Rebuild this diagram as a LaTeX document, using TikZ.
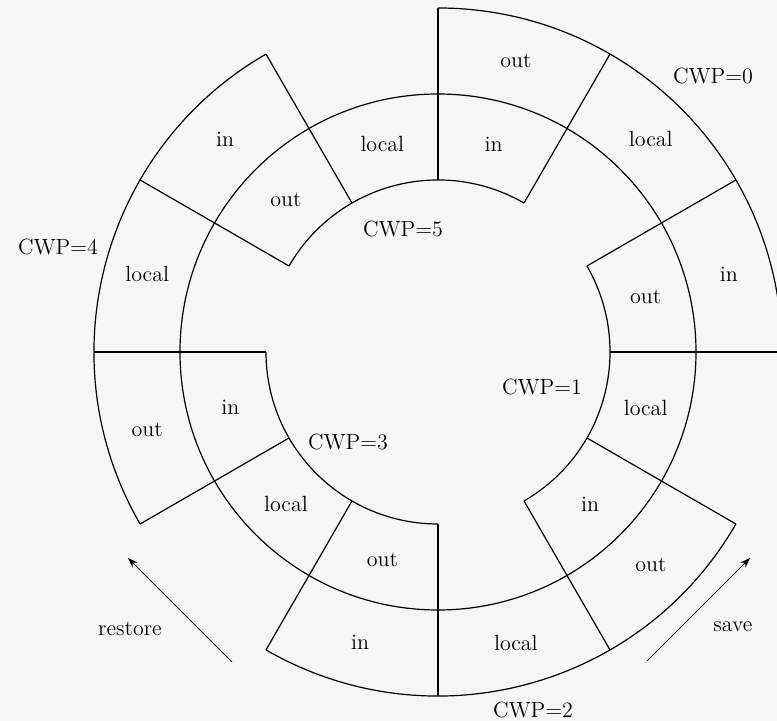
\documentclass[tikz,border=0pt]{standalone}
\usetikzlibrary{arrows.meta}
\definecolor{bgcol}{RGB}{246,246,247}
\begin{document}
\begin{tikzpicture}[x=0.5pt,y=0.5pt,line width=0.6pt,
  lbl/.style={inner sep=0pt,font=\fontsize{11}{13}\selectfont},
  cwp/.style={inner sep=0pt,font=\fontsize{11}{13}\selectfont},
  arr/.style={line width=0.5pt,-{Stealth[length=5pt,width=3.6pt]}}]
\fill[bgcol] (-438,-369) rectangle (339,352);
\useasboundingbox (-438,-369) rectangle (339,352);
% middle circle
\draw (0,0) circle[radius=258];
% outer arcs (CWP 0, 2, 4)
\draw (90:344) arc[start angle=90,end angle=0,radius=344];
\draw (-30:344) arc[start angle=-30,end angle=-120,radius=344];
\draw (210:344) arc[start angle=210,end angle=120,radius=344];
% inner arcs (CWP 1, 3, 5)
\draw (30:172) arc[start angle=30,end angle=-60,radius=172];
\draw (270:172) arc[start angle=270,end angle=180,radius=172];
\draw (150:172) arc[start angle=150,end angle=60,radius=172];
% radial separators
\foreach \a in {0,30,...,330} \draw (\a:172) -- (\a:344);
% outer ring labels
\node[lbl] (o75)  at (75:301)   {out};
\node[lbl] (o45)  at (45:301)   {local};
\node[lbl] (o15)  at (15:301)   {in};
\node[lbl] (om45) at (-45:301)  {out};
\node[lbl] (om75) at (-75:301)  {local};
\node[lbl] (om105) at (-105:301) {in};
\node[lbl] (om165) at (-165:301) {out};
\node[lbl] (o165) at (165:301)  {local};
\node[lbl] (o135) at (135:301)  {in};
% inner ring labels
\node[lbl] (i75)  at (75:215)   {in};
\node[lbl] (i105) at (105:215)  {local};
\node[lbl] (i135) at (135:215)  {out};
\node[lbl] (i15)  at (15:215)   {out};
\node[lbl] (im15) at (-15:215)  {local};
\node[lbl] (im45) at (-45:215)  {in};
\node[lbl] (im105) at (-105:215) {out};
\node[lbl] (im135) at (-135:215) {local};
\node[lbl] (im165) at (-165:215) {in};
% window labels
\node[cwp] (c0) at (275,276)   {CWP=0};
\node[cwp] (c1) at (104,-35)   {CWP=1};
\node[cwp] (c2) at (95,-358)   {CWP=2};
\node[cwp] (c3) at (-90,-90)   {CWP=3};
\node[cwp] (c4) at (-380,105)  {CWP=4};
\node[cwp] (c5) at (-35,123)   {CWP=5};
% arrows
\coordinate (rs) at (-206,-310);
\coordinate (re) at (-310,-206);
\coordinate (ss) at (209,-309);
\coordinate (se) at (312,-206);
\draw[arr] (rs) -- (re);
\draw[arr] (ss) -- (se);
\node[lbl] (restore) at (-308,-277) {restore};
\node[lbl] (save) at (295,-275) {save};
\end{tikzpicture}
\end{document}
